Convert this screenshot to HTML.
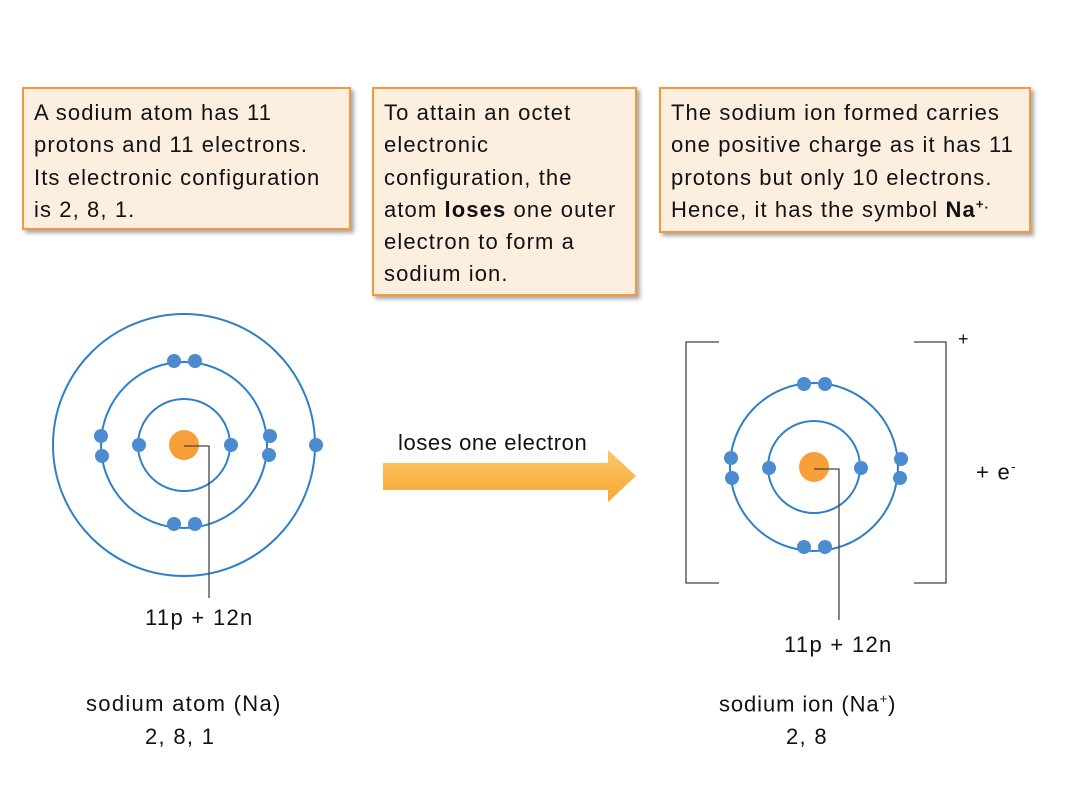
<!DOCTYPE html>
<html><head><style>
body{margin:0;width:1081px;height:811px;background:#fff;position:relative;overflow:hidden;font-family:"Liberation Sans",sans-serif;color:#111}
.b{position:absolute;background:#fdefe0;border:2px solid #f7963b;box-shadow:3px 3px 4px rgba(0,0,0,.35);box-sizing:border-box;font-size:22px;line-height:32.3px;padding:8px 10px 0 10px;letter-spacing:1.1px;white-space:nowrap}
.t{position:absolute;font-size:22px;white-space:nowrap;letter-spacing:1.3px}
</style></head><body>
<div class="b" style="left:22px;top:87px;width:329px;height:143px">A sodium atom has 11<br>protons and 11 electrons.<br>Its electronic configuration<br>is 2, 8, 1.</div>
<div class="b" style="left:372px;top:87px;width:265px;height:209px">To attain an octet<br>electronic<br>configuration, the<br>atom <b>loses</b> one outer<br>electron to form a<br>sodium ion.</div>
<div class="b" style="left:659px;top:87px;width:372px;height:146px">The sodium ion formed carries<br>one positive charge as it has 11<br>protons but only 10 electrons.<br>Hence, it has the symbol <b>Na<sup style="font-size:13px;line-height:0">+.</sup></b></div>
<svg width="1081" height="811" style="position:absolute;left:0;top:0">
<defs><linearGradient id="g" x1="0" y1="0" x2="0" y2="1"><stop offset="0" stop-color="#fcc76a"/><stop offset="1" stop-color="#f8a632"/></linearGradient></defs>
<g fill="none" stroke="#2f7fc8" stroke-width="2">
<circle cx="184" cy="445" r="46"/><circle cx="184" cy="445" r="83"/><circle cx="184" cy="445" r="131"/>
<circle cx="814" cy="467" r="46"/><circle cx="814" cy="467" r="84"/>
</g>
<circle cx="184" cy="445" r="15" fill="#f7a03a"/>
<circle cx="814" cy="467" r="15" fill="#f7a03a"/>
<g fill="#4b8bd0">
<circle cx="139" cy="445" r="7"/><circle cx="231" cy="445" r="7"/>
<circle cx="174" cy="361" r="7"/><circle cx="195" cy="361" r="7"/>
<circle cx="174" cy="524" r="7"/><circle cx="195" cy="524" r="7"/>
<circle cx="101" cy="436" r="7"/><circle cx="102" cy="456" r="7"/>
<circle cx="270" cy="436" r="7"/><circle cx="269" cy="455" r="7"/>
<circle cx="316" cy="445" r="7"/>
<circle cx="769" cy="468" r="7"/><circle cx="861" cy="468" r="7"/>
<circle cx="804" cy="384" r="7"/><circle cx="825" cy="384" r="7"/>
<circle cx="804" cy="547" r="7"/><circle cx="825" cy="547" r="7"/>
<circle cx="731" cy="458" r="7"/><circle cx="732" cy="478" r="7"/>
<circle cx="901" cy="459" r="7"/><circle cx="900" cy="478" r="7"/>
</g>
<g fill="none" stroke="#444" stroke-width="1.3">
<polyline points="184,446 209,446 209,598"/>
<polyline points="814,469 839,469 839,620"/>
<polyline points="719,342 686,342 686,583 719,583"/>
<polyline points="914,342 946,342 946,583 914,583"/>
</g>
<polygon points="383,463 608,463 608,450 636,476 608,502 608,490 383,490" fill="url(#g)"/>
</svg>
<div class="t" style="left:398px;top:430px;letter-spacing:0.6px">loses one electron</div>
<div class="t" style="left:958px;top:329px;font-size:18px">+</div>
<div class="t" style="left:976px;top:459px">+ e<sup style="font-size:13px">-</sup></div>
<div class="t" style="left:145px;top:605px">11p + 12n</div>
<div class="t" style="left:784px;top:632px">11p + 12n</div>
<div class="t" style="left:86px;top:691px">sodium atom (Na)</div>
<div class="t" style="left:145px;top:724px">2, 8, 1</div>
<div class="t" style="left:719px;top:691px;letter-spacing:0.9px">sodium ion (Na<sup style="font-size:13px">+</sup>)</div>
<div class="t" style="left:786px;top:724px">2, 8</div>
</body></html>
